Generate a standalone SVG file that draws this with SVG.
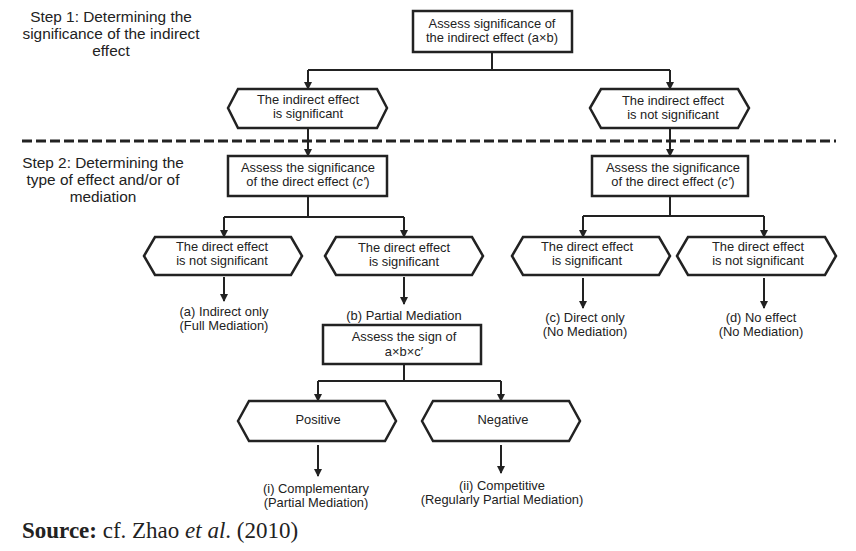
<svg xmlns="http://www.w3.org/2000/svg" width="856" height="551" viewBox="0 0 856 551">
<defs>
<marker id="ah" viewBox="0 0 8 8" refX="7" refY="4" markerWidth="8" markerHeight="8" markerUnits="userSpaceOnUse" orient="auto">
<path d="M0,0 L8,4 L0,8 z" fill="#222"/>
</marker>
<style>
.box{fill:#fff;stroke:#222;stroke-width:2.5}
.t{font-family:"Liberation Sans",Arial,sans-serif;font-size:12.9px;fill:#222;text-anchor:middle}
.s{font-family:"Liberation Sans",Arial,sans-serif;font-size:15.4px;fill:#222;text-anchor:middle}
.c{fill:none;stroke:#222;stroke-width:2}
.a{fill:none;stroke:#222;stroke-width:2;marker-end:url(#ah)}
</style>
</defs>
<rect width="856" height="551" fill="#fff"/>
<g id="labels">
<text class="s" x="111" y="22">Step 1: Determining the</text>
<text class="s" x="111" y="39">significance of the indirect</text>
<text class="s" x="111" y="56">effect</text>
<text class="s" x="103" y="168">Step 2: Determining the</text>
<text class="s" x="103" y="185">type of effect and/or of</text>
<text class="s" x="103" y="202">mediation</text>
<line x1="22" y1="141" x2="836" y2="141" stroke="#222" stroke-width="3" stroke-dasharray="10,4"/>
</g>
<g id="connectors">
<path class="c" d="M492,52 V70 M308,70 H670"/>
<path class="a" d="M308,70 V89"/>
<path class="a" d="M670,70 V89"/>
<path class="a" d="M308,128 V156"/>
<path class="a" d="M670,128 V156"/>
<path class="c" d="M308,196 V217 M224,217 H404"/>
<path class="a" d="M224,217 V237"/>
<path class="a" d="M404,217 V237"/>
<path class="c" d="M670,196 V216 M583,216 H764"/>
<path class="a" d="M583,216 V237"/>
<path class="a" d="M764,216 V237"/>
<path class="a" d="M224,277 V301"/>
<path class="a" d="M404,277 V304"/>
<path class="a" d="M583,278 V308"/>
<path class="a" d="M764,278 V308"/>
<path class="c" d="M404,364 V381 M318,381 H501"/>
<path class="a" d="M318,381 V401"/>
<path class="a" d="M501,381 V401"/>
<path class="a" d="M318,445 V476"/>
<path class="a" d="M501,445 V473"/>
</g>
<g id="n-top">
<rect class="box" x="413" y="11" width="159" height="41"/>
<text class="t" x="492" y="28">Assess significance of</text>
<text class="t" x="492" y="42">the indirect effect (a×b)</text>
</g>
<g id="n-ind-sig">
<polygon class="box" points="228,108 238,89 377,89 387,108 377,128 238,128"/>
<text class="t" x="308" y="104">The indirect effect</text>
<text class="t" x="308" y="118">is significant</text>
</g>
<g id="n-ind-nsig">
<polygon class="box" points="590,108 601,89 738,89 749,108 738,128 601,128"/>
<text class="t" x="673" y="105">The indirect effect</text>
<text class="t" x="673" y="119">is not significant</text>
</g>
<g id="n-dir-left">
<rect class="box" x="228" y="156" width="159" height="40"/>
<text class="t" x="308" y="172">Assess the significance</text>
<text class="t" x="308" y="186">of the direct effect (<tspan font-style="italic">c′</tspan>)</text>
</g>
<g id="n-dir-right">
<rect class="box" x="592" y="156" width="156" height="40"/>
<text class="t" x="673" y="172">Assess the significance</text>
<text class="t" x="673" y="186">of the direct effect (<tspan font-style="italic">c′</tspan>)</text>
</g>
<g id="n-a">
<polygon class="box" points="144,256 155,237 291,237 302,256 291,275 155,275"/>
<text class="t" x="222" y="251">The direct effect</text>
<text class="t" x="222" y="265">is not significant</text>
</g>
<g id="n-b">
<polygon class="box" points="325,256 336,237 472,237 483,256 472,275 336,275"/>
<text class="t" x="404" y="252">The direct effect</text>
<text class="t" x="404" y="266">is significant</text>
</g>
<g id="n-c">
<polygon class="box" points="512,256 523,237 659,237 670,256 659,275 523,275"/>
<text class="t" x="587" y="251">The direct effect</text>
<text class="t" x="587" y="265">is significant</text>
</g>
<g id="n-d">
<polygon class="box" points="677,256 688,237 825,237 836,256 825,275 688,275"/>
<text class="t" x="758" y="251">The direct effect</text>
<text class="t" x="758" y="265">is not significant</text>
</g>
<g id="o-a">
<text class="t" x="224" y="316">(a) Indirect only</text>
<text class="t" x="224" y="330">(Full Mediation)</text>
</g>
<g id="o-b">
<text class="t" x="404" y="320">(b) Partial Mediation</text>
</g>
<g id="o-c">
<text class="t" x="585" y="322">(c) Direct only</text>
<text class="t" x="585" y="336">(No Mediation)</text>
</g>
<g id="o-d">
<text class="t" x="761" y="322">(d) No effect</text>
<text class="t" x="761" y="336">(No Mediation)</text>
</g>
<g id="n-sign">
<rect class="box" x="323" y="325" width="158" height="39"/>
<text class="t" x="404" y="341">Assess the sign of</text>
<text class="t" x="404" y="356">a×b×c′</text>
</g>
<g id="n-pos">
<polygon class="box" points="238,421 249,401 385,401 396,421 385,441 249,441"/>
<text class="t" x="318" y="424">Positive</text>
</g>
<g id="n-neg">
<polygon class="box" points="422,421 433,401 569,401 580,421 569,441 433,441"/>
<text class="t" x="503" y="424">Negative</text>
</g>
<g id="o-i">
<text class="t" x="316" y="493">(i) Complementary</text>
<text class="t" x="316" y="507">(Partial Mediation)</text>
</g>
<g id="o-ii">
<text class="t" x="502" y="490">(ii) Competitive</text>
<text class="t" x="502" y="504">(Regularly Partial Mediation)</text>
</g>
<g id="source">
<text x="22" y="538" font-family="Liberation Serif,'Times New Roman',serif" font-size="23" fill="#222"><tspan font-weight="bold">Source:</tspan> cf. Zhao <tspan font-style="italic">et al</tspan>. (2010)</text>
</g>
</svg>
